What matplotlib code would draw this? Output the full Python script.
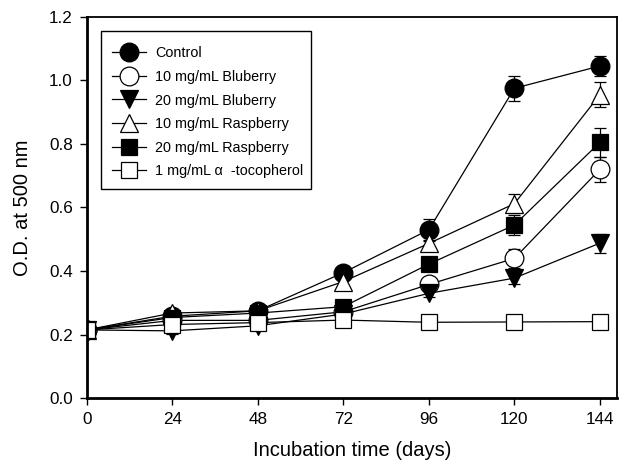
import numpy as np
import matplotlib
matplotlib.use("Agg")
import matplotlib.pyplot as plt
from matplotlib.patches import Rectangle

plt.rcParams["font.family"] = ["Liberation Sans", "DejaVu Sans"]

# Incubation time (days)
days = [0, 24, 48, 72, 96, 120, 144]

labels = ["Control", "10 mg/mL Bluberry", "20 mg/mL Bluberry",
          "10 mg/mL Raspberry", "20 mg/mL Raspberry", "1 mg/mL \u03b1  -tocopherol"]

control      = [0.215, 0.258, 0.275, 0.395, 0.530, 0.975, 1.045]
blue_10      = [0.215, 0.245, 0.245, 0.272, 0.358, 0.440, 0.720]
blue_20      = [0.215, 0.212, 0.228, 0.265, 0.330, 0.378, 0.488]
rasp_10      = [0.215, 0.268, 0.275, 0.367, 0.487, 0.612, 0.955]
rasp_20      = [0.215, 0.254, 0.268, 0.288, 0.422, 0.545, 0.805]
tocopherol   = [0.215, 0.232, 0.238, 0.246, 0.239, 0.240, 0.241]

control_err  = [0.008, 0.008, 0.010, 0.012, 0.035, 0.040, 0.030]
blue_10_err  = [0.008, 0.008, 0.008, 0.010, 0.012, 0.030, 0.040]
blue_20_err  = [0.008, 0.010, 0.010, 0.010, 0.012, 0.020, 0.030]
rasp_10_err  = [0.008, 0.008, 0.008, 0.010, 0.012, 0.030, 0.040]
rasp_20_err  = [0.008, 0.008, 0.008, 0.010, 0.015, 0.030, 0.045]
toco_err     = [0.008, 0.008, 0.008, 0.008, 0.008, 0.012, 0.010]

series = [control, blue_10, blue_20, rasp_10, rasp_20, tocopherol]
errors = [control_err, blue_10_err, blue_20_err, rasp_10_err, rasp_20_err, toco_err]
markers = ["o", "o", "v", "^", "s", "s"]
faces = ["black", "white", "black", "white", "black", "white"]
sizes = [13.5, 13.5, 13.5, 13.5, 12, 12]

fig = plt.figure(figsize=(6.27, 4.71), dpi=100)
ax = fig.add_axes([0.1383, 0.1544, 0.8453, 0.8101])

for y, e, m, fc, ms, lab in zip(series, errors, markers, faces, sizes, labels):
    ax.errorbar(days, y, yerr=e, marker=m, ms=ms, mfc=fc, mec="black", mew=0.9,
                color="black", lw=0.9, elinewidth=0.9, capsize=4, capthick=0.9,
                ecolor="black", label=lab)

ax.set_xlim(0, 148.7)
ax.set_ylim(0.0, 1.2)
ax.set_xticks(days)
ax.set_yticks(np.arange(0, 1.21, 0.2))
ax.set_yticklabels([f"{v:.1f}" for v in np.arange(0, 1.21, 0.2)])
ax.tick_params(direction="out", length=5, width=1, labelsize=12.3, pad=5)

for side in ["left", "bottom"]:
    ax.spines[side].set_linewidth(2)
for side in ["top", "right"]:
    ax.spines[side].set_linewidth(1.3)

ax.set_xlabel("Incubation time (days)", fontsize=14.5, labelpad=10)
ax.set_ylabel("O.D. at 500 nm", fontsize=14.5, labelpad=12)

# legend without its own frame; box drawn separately (tight right padding)
handles, labs = ax.get_legend_handles_labels()
handles = [h[0] for h in handles]
leg = ax.legend(handles, labs, loc="upper left", bbox_to_anchor=(0.0472, 0.922),
                borderaxespad=0, borderpad=0, fontsize=10.4, frameon=False,
                handlelength=2.37, handletextpad=0.62, labelspacing=0.66)
ax.add_patch(Rectangle((0.0264, 0.5485), 0.3962, 0.414, transform=ax.transAxes,
                       fill=True, facecolor="white", edgecolor="black", lw=1.0, zorder=4))
leg.set_zorder(5)

fig.savefig("out.png", dpi=100)
